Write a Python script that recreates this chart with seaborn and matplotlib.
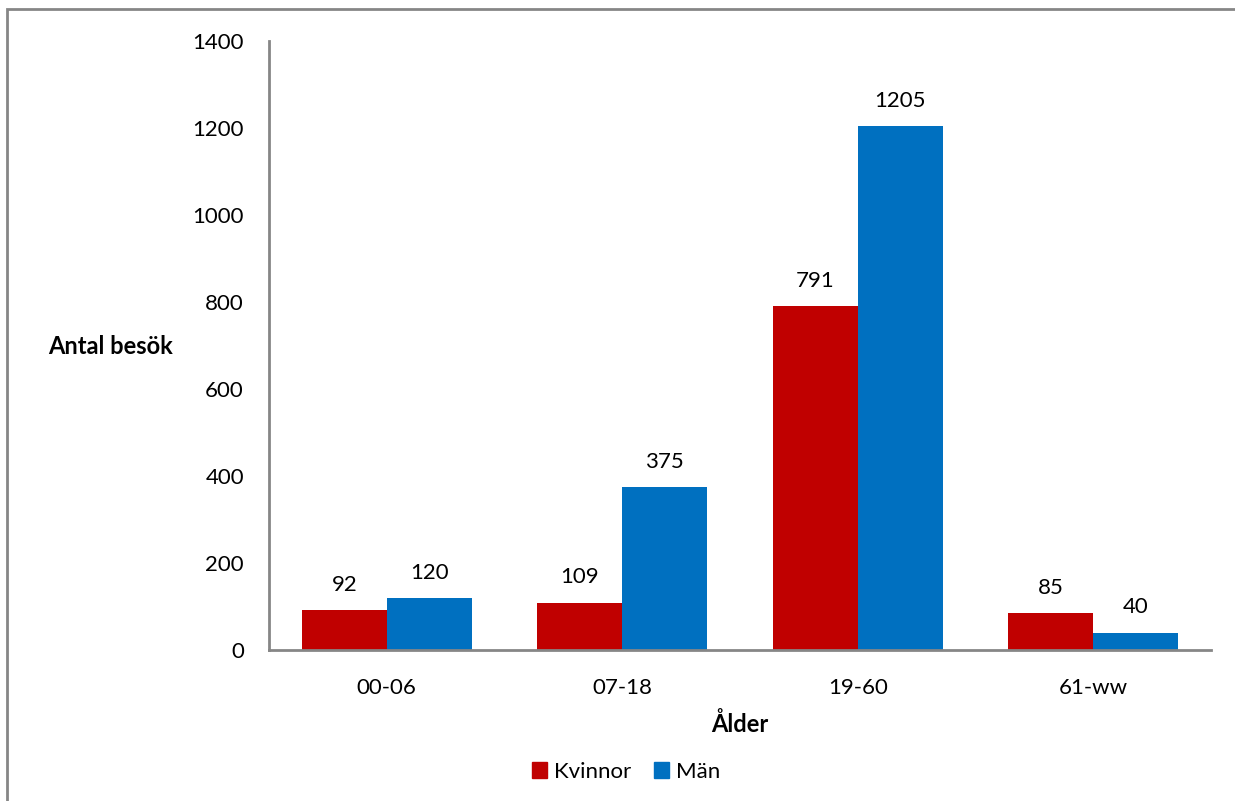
import matplotlib.pyplot as plt
import matplotlib.patches as mpatches
import pandas as pd
import seaborn as sns

sns.set_theme(style='white')
plt.rcParams['font.family'] = ['Lato', 'DejaVu Sans']
plt.rcParams['text.color'] = 'black'
plt.rcParams['axes.labelcolor'] = 'black'

age_groups = ["00-06", "07-18", "19-60", "61-ww"]
kvinnor = [92, 109, 791, 85]
man = [120, 375, 1205, 40]
series = ["Kvinnor", "Män"]
colors = ["#C00000", "#0070C0"]

df = pd.DataFrame({
    "Ålder": age_groups * 2,
    "Antal": kvinnor + man,
    "Kön": [series[0]] * len(kvinnor) + [series[1]] * len(man),
})

fig = plt.figure(figsize=(12.35, 8.01), dpi=100)
ax = fig.add_axes([269 / 1235, 151 / 801, 942 / 1235, 609 / 801])

sns.barplot(data=df, x="Ålder", y="Antal", hue="Kön", palette=colors,
            width=0.72, saturation=1, linewidth=0, ax=ax, legend=False)

for cont in ax.containers:
    ax.bar_label(cont, padding=11, fontsize=16, color='black')

ax.set_ylim(0, 1400)
ax.set_yticks(range(0, 1401, 200))
ax.set_xlim(-0.5, 3.5)
ax.tick_params(axis='both', length=0, labelsize=16, colors='black')
ax.tick_params(axis='y', pad=18)
ax.tick_params(axis='x', pad=20)

for s in ['top', 'right']:
    ax.spines[s].set_visible(False)
for s in ['left', 'bottom']:
    ax.spines[s].set_color('#868686')
    ax.spines[s].set_linewidth(2)

ax.set_xlabel("Ålder", fontsize=17, fontweight='bold', labelpad=10)
ax.set_ylabel("")
fig.text(48 / 1235, 1 - 347 / 801, "Antal besök", fontsize=17, fontweight='bold',
         ha='left', va='center')

handles = [mpatches.Patch(color=c, label=l) for c, l in zip(colors, series)]
fig.legend(handles=handles, loc='center', bbox_to_anchor=(626 / 1235, 1 - 772 / 801),
           ncol=2, frameon=False, fontsize=16, handlelength=0.7, handleheight=0.7,
           handletextpad=0.3, columnspacing=1.0)

# chart area border
border = mpatches.Rectangle((7 / 1235, -0.05), 1.1, 1 - 9 / 801 + 0.05,
                            transform=fig.transFigure, fill=False,
                            edgecolor='#868686', linewidth=2)
fig.patches.append(border)

fig.savefig("out.png", dpi=100)
